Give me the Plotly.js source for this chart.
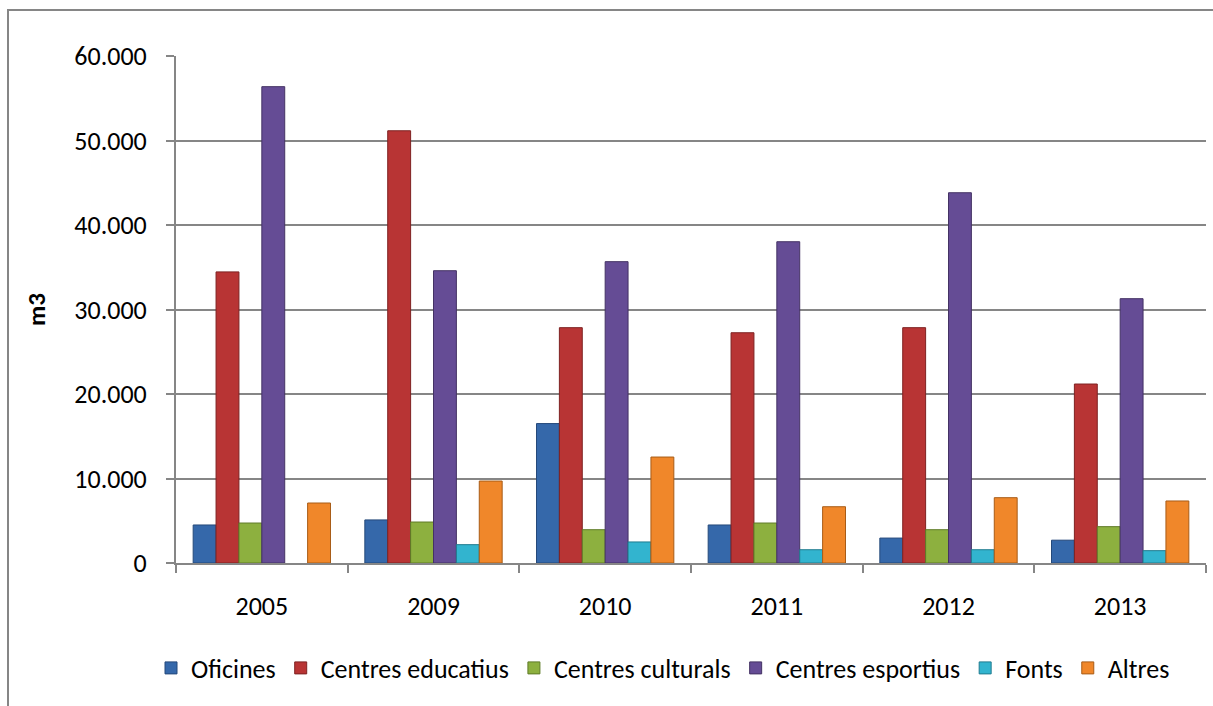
<!DOCTYPE html>
<html>
<head>
<meta charset="utf-8">
<script src="https://cdn.plot.ly/plotly-3.0.1.min.js"></script>
<style>
html,body{margin:0;padding:0;background:#fff;overflow:hidden;}
#chart{width:1213px;height:706px;}
</style>
</head>
<body>
<div id="chart"></div>
<script>
const years = ['2005','2009','2010','2011','2012','2013'];
const seriesNames = ['Oficines','Centres educatius','Centres culturals','Centres esportius','Fonts','Altres'];
const oficines = [4500, 5100, 16500, 4500, 2950, 2700];
const centresEducatius = [34450, 51150, 27850, 27250, 27850, 21180];
const centresCulturals = [4730, 4850, 3940, 4730, 3940, 4300];
const centresEsportius = [56370, 34590, 35660, 38020, 43820, 31280];
const fonts = [null, 2170, 2490, 1570, 1570, 1460];
const altres = [7100, 9700, 12540, 6660, 7730, 7340];
const yTickVals = [0, 10000, 20000, 30000, 40000, 50000, 60000];
const yTickText = ['0', '10.000', '20.000', '30.000', '40.000', '50.000', '60.000'];

const seriesValues = [oficines, centresEducatius, centresCulturals, centresEsportius, fonts, altres];
const colors = ['#3568AA', '#B83434', '#8DB03F', '#654C95', '#32B4CF', '#F0872A'];
const lineColors = ['#25497A', '#7E2222', '#5F7A27', '#443264', '#207C8F', '#A85C17'];

const FONT = 'Carlito, Lato, "Open Sans", sans-serif';

const traces = seriesNames.map((name, i) => ({
  type: 'bar',
  name: name,
  x: years,
  y: seriesValues[i],
  marker: {color: colors[i], line: {color: lineColors[i], width: 1}},
  hoverinfo: 'x+y+name'
}));

const W = 1213, H = 706, L = 176, R = 7, T = 56, B = 143;
const pw = W - L - R, ph = H - T - B;

const layout = {
  width: W, height: H,
  margin: {l: L, r: R, t: T, b: B, pad: 0},
  paper_bgcolor: '#ffffff',
  plot_bgcolor: '#ffffff',
  font: {family: FONT, size: 26, color: '#000000'},
  barmode: 'group',
  bargap: 0.2,
  bargroupgap: 0,
  showlegend: true,
  legend: {
    orientation: 'h',
    x: (663 - L) / pw, xanchor: 'center',
    y: (H - B - 668) / ph, yanchor: 'middle',
    font: {family: FONT, size: 26, color: '#000000'},
    itemwidth: 30,
    traceorder: 'normal',
    bgcolor: 'rgba(0,0,0,0)'
  },
  xaxis: {
    type: 'category',
    showline: true, linecolor: '#868686', linewidth: 2,
    ticks: 'outside', ticklen: 8, tickwidth: 2, tickcolor: '#868686',
    tickson: 'boundaries',
    showgrid: false,
    ticklabelstandoff: 19,
    tickfont: {family: FONT, size: 26, color: '#000000'},
    fixedrange: true
  },
  yaxis: {
    range: [0, 60000],
    tickvals: yTickVals,
    ticktext: yTickText,
    showline: true, linecolor: '#868686', linewidth: 2,
    ticks: 'outside', ticklen: 8, tickwidth: 2, tickcolor: '#868686',
    showgrid: true, gridcolor: '#868686', gridwidth: 2,
    zeroline: false,
    ticklabelstandoff: 14,
    tickfont: {family: FONT, size: 26, color: '#000000'},
    fixedrange: true
  },
  annotations: [{
    text: '<b>m3</b>',
    xref: 'paper', yref: 'paper',
    x: (36 - L) / pw, y: (H - B - 310) / ph,
    xanchor: 'center', yanchor: 'middle',
    textangle: -90,
    showarrow: false,
    font: {family: FONT, size: 25, color: '#000000'}
  }],
  shapes: [{
    type: 'rect', xref: 'paper', yref: 'paper',
    x0: (8 - L) / pw, x1: 2,
    y0: -1, y1: (H - B - 10) / ph,
    line: {color: '#868686', width: 2},
    fillcolor: 'rgba(0,0,0,0)',
    layer: 'below'
  }]
};

Plotly.newPlot('chart', traces, layout, {displayModeBar: false, staticPlot: true});
</script>
</body>
</html>
